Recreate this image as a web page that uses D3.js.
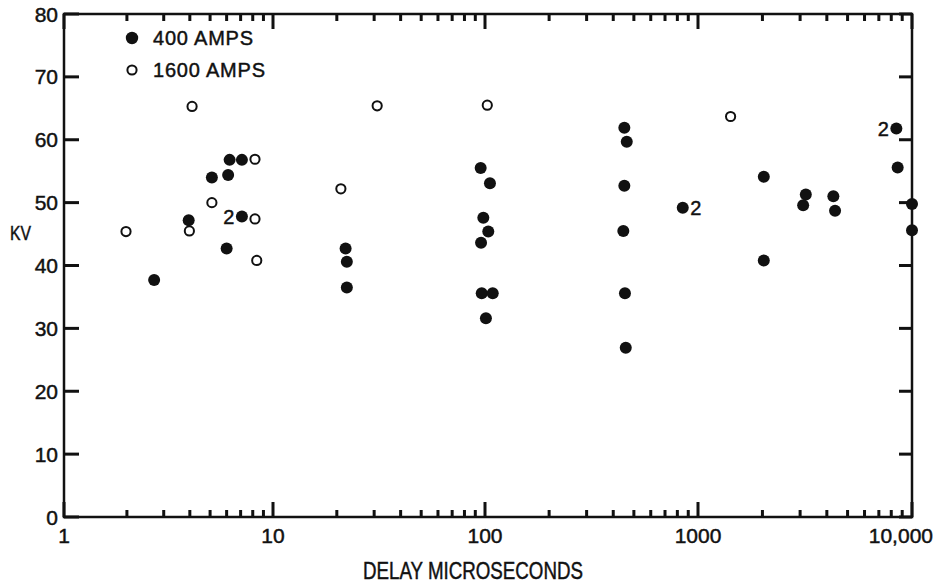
<!DOCTYPE html>
<html>
<head>
<meta charset="utf-8">
<script src="https://cdn.jsdelivr.net/npm/d3@7"></script>
<style>
  body { margin: 0; background: #fff; }
  text { font-family: "Liberation Sans", Arial, sans-serif; fill: #111; stroke: #111; stroke-width: 0.45px; }
</style>
</head>
<body>
<svg id="chart" width="939" height="583"></svg>
<script>
// 400 amp shots (filled dots)
const delay400 = [2.7, 3.95, 5.1, 6.1, 6.2, 6.0, 7.1, 7.1,
  22, 22.3, 22.3,
  95.4, 105.5, 98.2, 103.6, 95.8, 96.5, 108.7, 101,
  451, 463, 451, 446, 454, 458,
  848, 2030, 2030, 3190, 3100, 4290, 4370, 8450, 8570, 10000, 10000];
const kv400 = [37.7, 47.2, 54.0, 54.4, 56.8, 42.7, 56.8, 47.8,
  42.7, 40.6, 36.5,
  55.5, 53.1, 47.6, 45.4, 43.6, 35.6, 35.6, 31.6,
  61.9, 59.7, 52.7, 45.5, 35.6, 26.9,
  49.2, 54.1, 40.8, 51.3, 49.6, 51.0, 48.7, 61.8, 55.6, 49.8, 45.6];

// 1600 amp shots (open dots)
const delay1600 = [1.98, 3.98, 4.1, 5.1, 8.2, 8.2, 8.36, 20.9, 31, 102.5, 1420];
const kv1600 = [45.4, 45.5, 65.3, 50.0, 56.9, 47.4, 40.8, 52.2, 65.4, 65.5, 63.7];

// points that stand for two shots
const doubleDelay = [7.1, 848, 8450];
const doubleKv = [47.8, 49.2, 61.8];
const doubleSide = [-1, 1, -1];

const xMajor = [1, 10, 100, 1000, 10000];
const xLabels = ["1", "10", "100", "1000", "10,000"];
const yTicks = [0, 10, 20, 30, 40, 50, 60, 70, 80];
const legendNames = ["400 AMPS", "1600 AMPS"];

const svg = d3.select("#chart");
const ink = "#111";

// hand drawn log axis, decades are not quite equal
const x = d3.scaleLog().domain(xMajor).range([64, 273, 485, 698, 912]);
const y = d3.scaleLinear().domain([0, 80]).range([517, 14]);

const xMinor = [];
for (let d = 1; d < 10000; d *= 10) {
  for (let k = 2; k <= 9; k++) xMinor.push(d * k);
}

const plotL = x(1), plotR = x(10000), plotT = y(80), plotB = y(0);
const tw = 3; // tick thickness, the scan has heavy lines

// frame
svg.append("rect")
  .attr("x", plotL).attr("y", plotT)
  .attr("width", plotR - plotL).attr("height", plotB - plotT)
  .attr("fill", "none").attr("stroke", ink).attr("stroke-width", 2.5);

// tick marks as filled bars, all pointing inward
const ticks = svg.append("g").attr("fill", ink);
const xTickSets = [[xMinor, 7], [xMajor, 15]];
xTickSets.forEach(([values, len]) => {
  ticks.selectAll(null).data(values).enter().append("rect")
    .attr("x", d => x(d) - tw / 2).attr("width", tw)
    .attr("y", plotB - len).attr("height", len);
  ticks.selectAll(null).data(values).enter().append("rect")
    .attr("x", d => x(d) - tw / 2).attr("width", tw)
    .attr("y", plotT).attr("height", len);
});
ticks.selectAll(null).data(yTicks).enter().append("rect")
  .attr("x", plotL).attr("width", 15)
  .attr("y", d => y(d) - tw / 2).attr("height", tw);
ticks.selectAll(null).data(yTicks).enter().append("rect")
  .attr("x", plotR - 13).attr("width", 13)
  .attr("y", d => y(d) - tw / 2).attr("height", tw);

// tick labels
svg.append("g").selectAll("text")
  .data(xMajor).enter()
  .append("text")
  .attr("x", d => d === 10000 ? x(d) + 21 : x(d))
  .attr("y", plotB + 26)
  .attr("text-anchor", d => d === 10000 ? "end" : "middle")
  .style("font-size", "21px")
  .text((d, i) => xLabels[i]);

svg.append("g").selectAll("text")
  .data(yTicks).enter()
  .append("text")
  .attr("x", plotL - 6)
  .attr("y", d => y(d))
  .attr("dy", "0.36em")
  .attr("text-anchor", "end")
  .style("font-size", "21px")
  .text(d => d);

// axis titles
svg.append("text")
  .attr("x", (plotL + plotR) / 2 - 15).attr("y", 579)
  .attr("text-anchor", "middle")
  .attr("textLength", 220).attr("lengthAdjust", "spacingAndGlyphs")
  .style("font-size", "23px")
  .text("DELAY MICROSECONDS");

svg.append("text")
  .attr("x", 10).attr("y", y(45) + 6)
  .attr("textLength", 21).attr("lengthAdjust", "spacingAndGlyphs")
  .style("font-size", "20px")
  .text("KV");

// data
svg.append("g").selectAll("circle")
  .data(d3.zip(delay400, kv400)).enter()
  .append("circle")
  .attr("cx", d => x(d[0]))
  .attr("cy", d => y(d[1]))
  .attr("r", 6)
  .attr("fill", ink);

svg.append("g").selectAll("circle")
  .data(d3.zip(delay1600, kv1600)).enter()
  .append("circle")
  .attr("cx", d => x(d[0]))
  .attr("cy", d => y(d[1]))
  .attr("r", 4.6)
  .attr("fill", "#fff")
  .attr("stroke", ink)
  .attr("stroke-width", 2);

svg.append("g").selectAll("text")
  .data(d3.zip(doubleDelay, doubleKv, doubleSide)).enter()
  .append("text")
  .attr("x", d => x(d[0]) + d[2] * 13)
  .attr("y", d => y(d[1]))
  .attr("dy", "0.36em")
  .attr("text-anchor", "middle")
  .style("font-size", "20px")
  .text("2");

// legend
const legend = svg.append("g").attr("transform", "translate(132,38)");
legend.append("circle").attr("cx", 0).attr("cy", 0).attr("r", 6.2).attr("fill", ink);
legend.append("circle").attr("cx", 0).attr("cy", 32).attr("r", 4.6)
  .attr("fill", "#fff").attr("stroke", ink).attr("stroke-width", 2);
legend.selectAll("text")
  .data(legendNames).enter()
  .append("text")
  .attr("x", 21)
  .attr("y", (d, i) => i * 32 + 7)
  .style("font-size", "20px")
  .style("letter-spacing", "0.8px")
  .text(d => d);
</script>
</body>
</html>
